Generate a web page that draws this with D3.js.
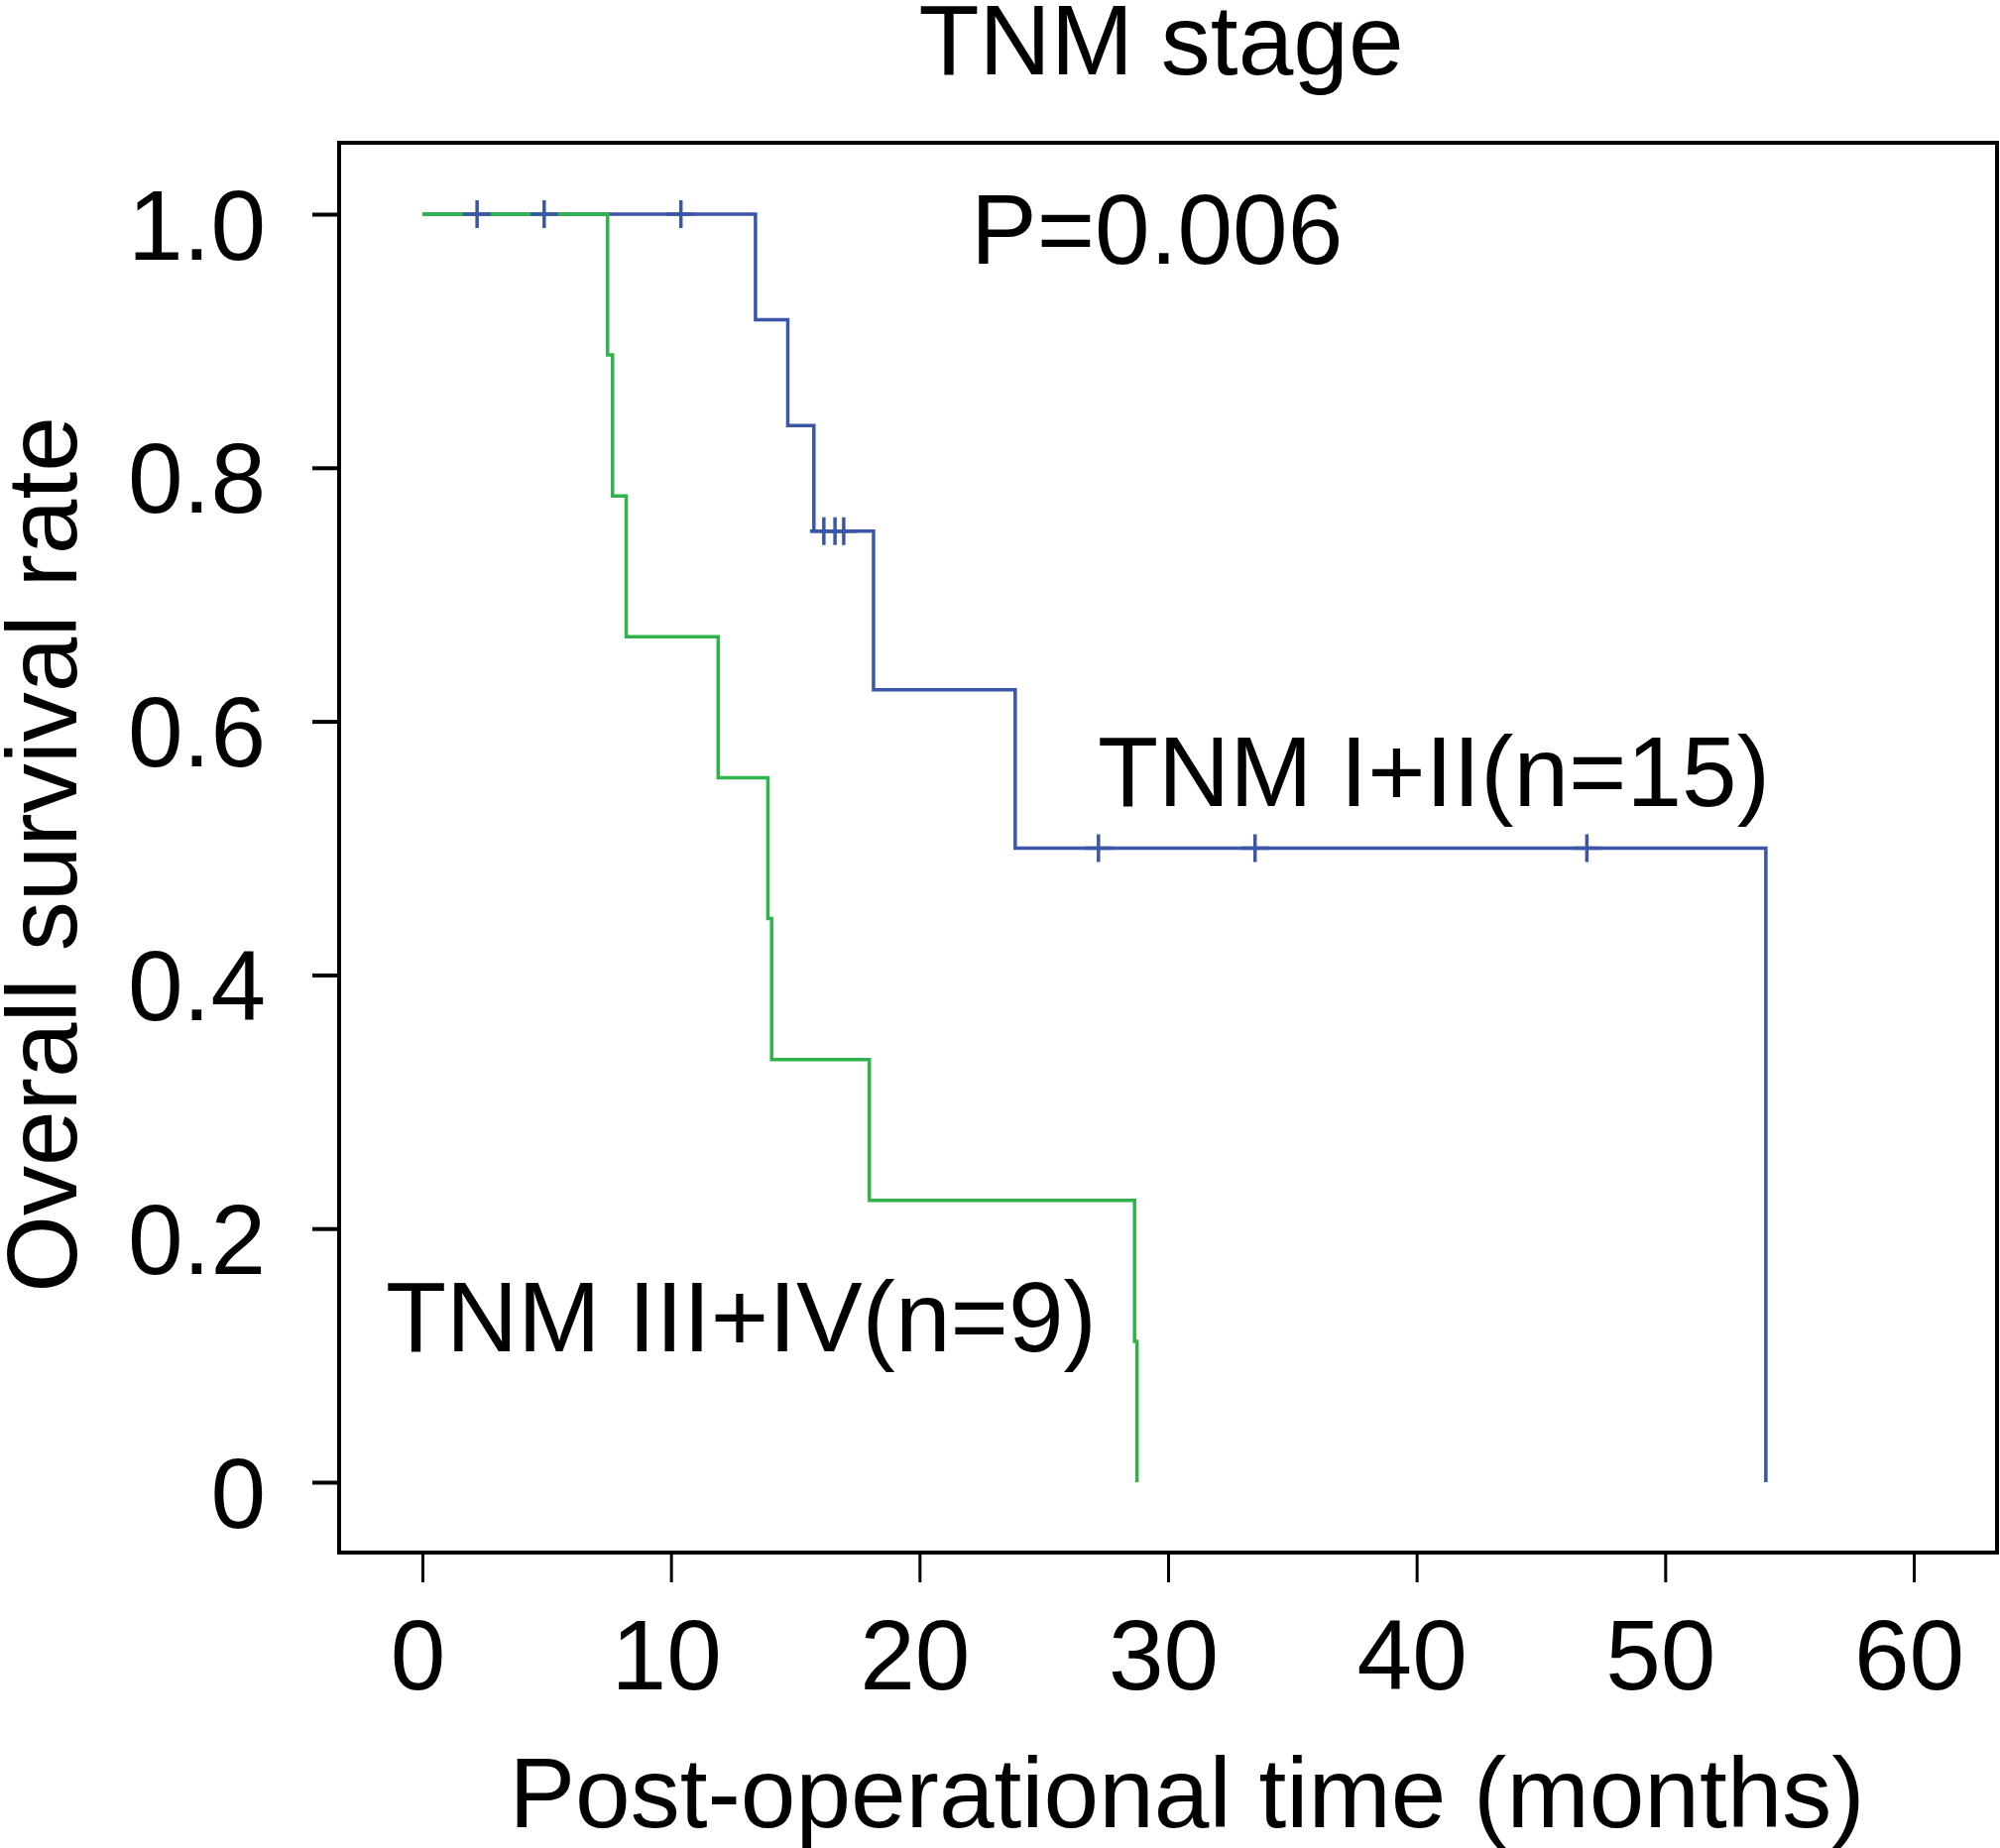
<!DOCTYPE html>
<html>
<head>
<meta charset="utf-8">
<script src="https://cdn.jsdelivr.net/npm/d3@7"></script>
<style>
  body { margin: 0; background: #fff; }
  text { font-family: "Liberation Sans", Arial, Helvetica, sans-serif; fill: #000; }
</style>
</head>
<body>
<script>
// Kaplan-Meier steps (months, survival)
var earlyTimes = [0, 13.4, 14.7, 15.75, 18.15, 23.85, 54.05];
var earlySurv = [1, 11 / 12, 10 / 12, 9 / 12, 0.625, 0.5, 0];
var earlyCensor = [2.2, 4.9, 10.4, 16.15, 16.6, 16.95, 27.2, 33.5, 46.85];

var lateTimes = [0, 7.45, 7.65, 8.2, 11.9, 13.9, 14.05, 17.98, 28.65, 28.75];
var lateSurv = [1, 8 / 9, 7 / 9, 6 / 9, 5 / 9, 4 / 9, 3 / 9, 2 / 9, 1 / 9, 0];

var xTicks = [0, 10, 20, 30, 40, 50, 60];
var yTicks = [0, 0.2, 0.4, 0.6, 0.8, 1.0];
var yTickLabels = ["0", "0.2", "0.4", "0.6", "0.8", "1.0"];

var blue = "#3b56a6", green = "#30b34b";

var svg = d3.select("body").append("svg")
    .attr("width", 2017)
    .attr("height", 1864);

var x = d3.scaleLinear().domain([0, 60]).range([426, 1930]);
var y = d3.scaleLinear().domain([0, 1]).range([1495, 216]);

// frame
svg.append("rect")
    .attr("x", 342).attr("y", 144)
    .attr("width", 1672).attr("height", 1422)
    .attr("fill", "none").attr("stroke", "#000").attr("stroke-width", 4);

// y axis
var yAxis = svg.append("g")
    .attr("transform", "translate(342,0)")
    .call(d3.axisLeft(y).tickValues(yTicks).tickSize(27).tickPadding(47)
        .tickFormat(function (d, i) { return yTickLabels[i]; }));
yAxis.select(".domain").remove();
yAxis.selectAll("line").attr("stroke-width", 4);
yAxis.selectAll("text")
    .attr("font-size", 100)
    .attr("font-family", "Liberation Sans, Arial, sans-serif")
    .attr("dy", "0.45em");

// x axis
var xAxis = svg.append("g")
    .attr("transform", "translate(0,1566)")
    .call(d3.axisBottom(x).tickValues(xTicks).tickSize(30).tickPadding(37));
xAxis.select(".domain").remove();
xAxis.selectAll("line").attr("stroke-width", 3);
xAxis.selectAll("text")
    .attr("font-size", 100)
    .attr("font-family", "Liberation Sans, Arial, sans-serif")
    .attr("dx", -5)
    .attr("dy", "0.71em");

// curves
var line = d3.line()
    .x(function (d) { return x(d[0]); })
    .y(function (d) { return y(d[1]); })
    .curve(d3.curveStepAfter);

svg.append("path")
    .datum(d3.zip(earlyTimes, earlySurv))
    .attr("d", line)
    .attr("fill", "none").attr("stroke", blue).attr("stroke-width", 3.5);

svg.append("path")
    .datum(d3.zip(lateTimes, lateSurv))
    .attr("d", line)
    .attr("fill", "none").attr("stroke", green).attr("stroke-width", 3.5);

// censor marks on the blue curve
function survAt(t) {
    var i = d3.bisectRight(earlyTimes, t) - 1;
    return earlySurv[Math.max(i, 0)];
}
var marks = svg.append("g").attr("stroke", blue).attr("stroke-width", 3.5);
earlyCensor.forEach(function (t) {
    var cx = x(t), cy = y(survAt(t));
    marks.append("line").attr("x1", cx).attr("x2", cx).attr("y1", cy - 14).attr("y2", cy + 14);
    marks.append("line").attr("x1", cx - 14).attr("x2", cx + 14).attr("y1", cy).attr("y2", cy);
});

// texts
svg.append("text").attr("x", 1171).attr("y", 75)
    .attr("text-anchor", "middle").attr("font-size", 100).text("TNM stage");

svg.append("text").attr("x", 979).attr("y", 266)
    .attr("font-size", 100).text("P=0.006");

svg.append("text").attr("x", 1107).attr("y", 813)
    .attr("font-size", 100).text("TNM I+II(n=15)");

svg.append("text").attr("x", 389).attr("y", 1363)
    .attr("font-size", 100).text("TNM III+IV(n=9)");

svg.append("text").attr("x", 1197).attr("y", 1843)
    .attr("text-anchor", "middle").attr("font-size", 100)
    .text("Post-operational time (months)");

svg.append("text")
    .attr("transform", "translate(77,862) rotate(-90)")
    .attr("text-anchor", "middle").attr("font-size", 100)
    .text("Overall survival rate");
</script>
</body>
</html>
